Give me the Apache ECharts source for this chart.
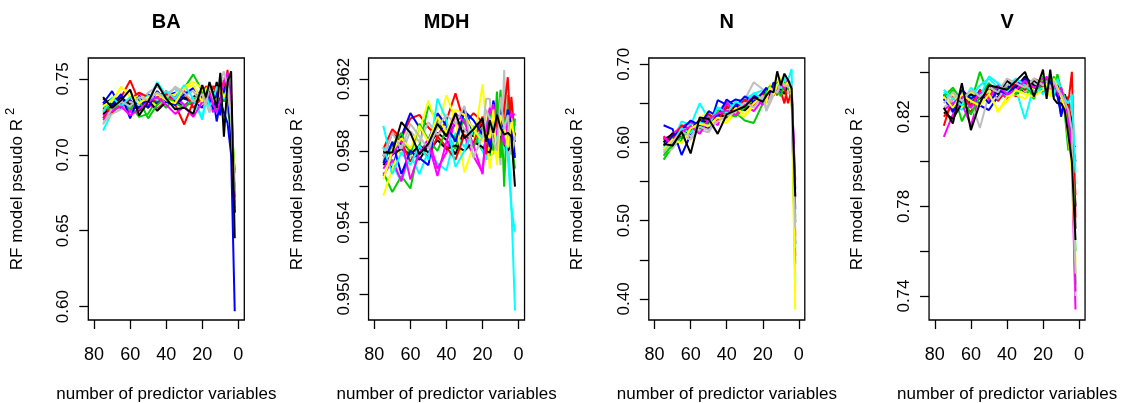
<!DOCTYPE html>
<html><head><meta charset="utf-8">
<script src="https://cdn.jsdelivr.net/npm/echarts@6/dist/echarts.min.js"></script>
<style>html,body{margin:0;padding:0;background:#fff}#c{width:1121px;height:403px}</style>
</head><body><div id="c"></div>
<script>
const panelNames = ['BA', 'MDH', 'N', 'V'];
const nVars = [75,70,65,60,55,50,45,40,35,30,25,20,18,16,14,12,10,8,6,4,2];
const xTicks = [0,20,40,60,80];
const runColors = ['#000000','#FF0000','#00CD00','#0000FF','#00FFFF','#FF00FF','#FFFF00','#BEBEBE'];

const baTicks = [0.60,0.65,0.70,0.75];
const baLabels = [0.60,0.65,0.70,0.75];
const mdhTicks = [0.950,0.952,0.954,0.956,0.958,0.960,0.962];
const mdhLabels = [0.950,0.954,0.958,0.962];
const nTicks = [0.40,0.45,0.50,0.55,0.60,0.65,0.70];
const nLabels = [0.40,0.50,0.60,0.70];
const vTicks = [0.74,0.76,0.78,0.80,0.82,0.84];
const vLabels = [0.74,0.78,0.82];

const baRuns = [
[0.733,0.737,0.731,0.735,0.729,0.736,0.733,0.740,0.735,0.732,0.738,0.742,0.736,0.744,0.739,0.746,0.741,0.735,0.748,0.722,0.668],
[0.724,0.733,0.738,0.749,0.735,0.731,0.738,0.742,0.733,0.720,0.735,0.741,0.745,0.744,0.745,0.745,0.744,0.738,0.756,0.728,0.662],
[0.729,0.734,0.731,0.733,0.725,0.727,0.737,0.731,0.738,0.744,0.753,0.742,0.736,0.741,0.733,0.738,0.728,0.742,0.731,0.715,0.690],
[0.734,0.742,0.730,0.736,0.731,0.740,0.734,0.739,0.741,0.737,0.735,0.731,0.739,0.733,0.738,0.722,0.735,0.728,0.721,0.700,0.597],
[0.716,0.728,0.735,0.731,0.738,0.735,0.748,0.739,0.744,0.731,0.738,0.724,0.735,0.728,0.740,0.733,0.745,0.740,0.738,0.730,0.680],
[0.726,0.731,0.735,0.728,0.741,0.733,0.731,0.735,0.738,0.733,0.734,0.738,0.741,0.735,0.728,0.738,0.745,0.748,0.752,0.735,0.665],
[0.730,0.735,0.745,0.738,0.739,0.736,0.732,0.738,0.740,0.745,0.748,0.744,0.735,0.743,0.731,0.737,0.740,0.746,0.748,0.738,0.678],
[0.721,0.727,0.730,0.735,0.733,0.741,0.745,0.740,0.744,0.739,0.742,0.733,0.737,0.728,0.735,0.731,0.742,0.751,0.737,0.732,0.670],
[0.727,0.732,0.738,0.733,0.730,0.736,0.729,0.735,0.733,0.738,0.735,0.737,0.733,0.742,0.737,0.748,0.733,0.742,0.750,0.706,0.662],
[0.731,0.728,0.733,0.737,0.741,0.738,0.735,0.740,0.737,0.742,0.731,0.738,0.740,0.735,0.745,0.741,0.739,0.749,0.741,0.728,0.672],
[0.733,0.729,0.735,0.730,0.736,0.724,0.733,0.738,0.734,0.731,0.736,0.740,0.744,0.737,0.741,0.730,0.747,0.735,0.744,0.725,0.688],
[0.737,0.733,0.740,0.724,0.739,0.731,0.742,0.735,0.733,0.740,0.744,0.738,0.733,0.740,0.730,0.741,0.726,0.744,0.738,0.718,0.676],
[0.728,0.738,0.732,0.738,0.734,0.739,0.736,0.742,0.737,0.746,0.737,0.723,0.740,0.732,0.736,0.745,0.738,0.737,0.745,0.731,0.674],
[0.723,0.729,0.732,0.726,0.730,0.735,0.738,0.733,0.727,0.732,0.725,0.735,0.738,0.741,0.733,0.728,0.736,0.748,0.754,0.740,0.666],
[0.732,0.736,0.744,0.741,0.734,0.738,0.740,0.736,0.734,0.744,0.746,0.735,0.743,0.746,0.738,0.735,0.744,0.738,0.743,0.726,0.682],
[0.720,0.731,0.735,0.732,0.738,0.736,0.741,0.737,0.745,0.741,0.735,0.740,0.732,0.746,0.738,0.733,0.748,0.755,0.745,0.724,0.676],
[0.738,0.731,0.736,0.743,0.726,0.735,0.747,0.737,0.730,0.731,0.727,0.746,0.738,0.748,0.740,0.731,0.754,0.712,0.748,0.755,0.645]
];

const mdhRuns = [
[0.9572,0.9578,0.9585,0.9580,0.9575,0.9583,0.9590,0.9586,0.9578,0.9592,0.9588,0.9595,0.9590,0.9583,0.9596,0.9588,0.9601,0.9594,0.9589,0.9592,0.9585],
[0.9581,0.9592,0.9587,0.9598,0.9600,0.9593,0.9588,0.9597,0.9612,0.9595,0.9601,0.9596,0.9590,0.9597,0.9588,0.9604,0.9592,0.9599,0.9582,0.9610,0.9586],
[0.9568,0.9557,0.9566,0.9559,0.9583,0.9605,0.9596,0.9590,0.9581,0.9603,0.9589,0.9580,0.9586,0.9577,0.9595,0.9590,0.9614,0.9560,0.9611,0.9585,0.9570],
[0.9578,0.9570,0.9588,0.9601,0.9593,0.9586,0.9599,0.9588,0.9595,0.9603,0.9590,0.9597,0.9585,0.9593,0.9608,0.9599,0.9602,0.9591,0.9596,0.9580,0.9578],
[0.9594,0.9572,0.9563,0.9578,0.9567,0.9580,0.9573,0.9569,0.9590,0.9582,0.9594,0.9580,0.9575,0.9589,0.9578,0.9595,0.9588,0.9581,0.9593,0.9549,0.9491],
[0.9566,0.9575,0.9563,0.9582,0.9578,0.9587,0.9570,0.9579,0.9598,0.9588,0.9577,0.9568,0.9592,0.9584,0.9606,0.9590,0.9583,0.9597,0.9588,0.9600,0.9594],
[0.9555,0.9570,0.9583,0.9577,0.9591,0.9608,0.9592,0.9611,0.9597,0.9568,0.9583,0.9617,0.9596,0.9570,0.9583,0.9575,0.9592,0.9608,0.9583,0.9598,0.9580],
[0.9575,0.9585,0.9578,0.9591,0.9585,0.9596,0.9589,0.9593,0.9598,0.9592,0.9584,0.9590,0.9609,0.9609,0.9581,0.9595,0.9572,0.9625,0.9574,0.9590,0.9597],
[0.9580,0.9578,0.9581,0.9578,0.9583,0.9579,0.9586,0.9581,0.9583,0.9580,0.9585,0.9582,0.9580,0.9579,0.9586,0.9582,0.9588,0.9584,0.9580,0.9583,0.9590],
[0.9577,0.9590,0.9585,0.9574,0.9582,0.9576,0.9588,0.9582,0.9575,0.9589,0.9584,0.9599,0.9578,0.9593,0.9585,0.9598,0.9580,0.9603,0.9621,0.9585,0.9590],
[0.9574,0.9583,0.9590,0.9578,0.9595,0.9586,0.9580,0.9592,0.9587,0.9598,0.9582,0.9593,0.9588,0.9603,0.9580,0.9613,0.9576,0.9595,0.9603,0.9578,0.9598],
[0.9573,0.9585,0.9567,0.9580,0.9576,0.9572,0.9601,0.9594,0.9585,0.9602,0.9597,0.9589,0.9593,0.9582,0.9590,0.9580,0.9606,0.9585,0.9603,0.9594,0.9576],
[0.9582,0.9567,0.9579,0.9572,0.9583,0.9575,0.9609,0.9597,0.9571,0.9580,0.9592,0.9587,0.9595,0.9599,0.9590,0.9586,0.9594,0.9590,0.9577,0.9548,0.9535],
[0.9570,0.9578,0.9586,0.9564,0.9579,0.9584,0.9566,0.9585,0.9601,0.9596,0.9583,0.9567,0.9591,0.9604,0.9596,0.9589,0.9595,0.9583,0.9597,0.9601,0.9600],
[0.9564,0.9580,0.9587,0.9581,0.9594,0.9585,0.9599,0.9590,0.9603,0.9600,0.9592,0.9585,0.9590,0.9587,0.9603,0.9572,0.9600,0.9594,0.9582,0.9596,0.9586],
[0.9577,0.9590,0.9581,0.9595,0.9588,0.9581,0.9593,0.9600,0.9595,0.9605,0.9576,0.9588,0.9603,0.9598,0.9585,0.9580,0.9610,0.9592,0.9600,0.9578,0.9588],
[0.9579,0.9579,0.9596,0.9590,0.9578,0.9584,0.9595,0.9588,0.9601,0.9587,0.9592,0.9598,0.9585,0.9597,0.9590,0.9600,0.9593,0.9589,0.9590,0.9588,0.9560]
];

const nRuns = [
[0.604,0.610,0.608,0.620,0.618,0.632,0.628,0.645,0.641,0.648,0.660,0.652,0.664,0.658,0.668,0.662,0.676,0.668,0.673,0.665,0.470],
[0.608,0.598,0.615,0.611,0.628,0.622,0.640,0.635,0.650,0.644,0.652,0.661,0.655,0.667,0.660,0.672,0.665,0.650,0.676,0.662,0.455],
[0.578,0.595,0.603,0.620,0.612,0.638,0.630,0.640,0.638,0.628,0.625,0.650,0.663,0.656,0.671,0.660,0.673,0.665,0.669,0.672,0.505],
[0.622,0.617,0.584,0.610,0.623,0.617,0.654,0.648,0.655,0.652,0.660,0.658,0.651,0.664,0.670,0.678,0.662,0.674,0.668,0.673,0.540],
[0.590,0.602,0.627,0.622,0.650,0.630,0.640,0.651,0.645,0.656,0.662,0.667,0.658,0.662,0.673,0.669,0.678,0.671,0.680,0.694,0.420],
[0.601,0.611,0.620,0.626,0.619,0.632,0.622,0.652,0.636,0.648,0.640,0.655,0.668,0.662,0.675,0.668,0.670,0.676,0.664,0.668,0.552],
[0.595,0.606,0.612,0.603,0.631,0.640,0.628,0.625,0.638,0.633,0.648,0.662,0.650,0.675,0.668,0.681,0.674,0.660,0.680,0.670,0.386],
[0.586,0.592,0.610,0.604,0.616,0.613,0.630,0.636,0.642,0.655,0.677,0.668,0.641,0.650,0.661,0.673,0.666,0.679,0.662,0.675,0.430],
[0.600,0.612,0.606,0.616,0.629,0.625,0.636,0.632,0.648,0.641,0.651,0.657,0.668,0.660,0.665,0.676,0.668,0.662,0.674,0.660,0.498],
[0.605,0.603,0.622,0.617,0.625,0.636,0.628,0.646,0.640,0.655,0.646,0.663,0.657,0.668,0.672,0.662,0.680,0.671,0.650,0.667,0.480],
[0.583,0.598,0.607,0.614,0.620,0.627,0.641,0.637,0.633,0.645,0.656,0.652,0.666,0.672,0.664,0.668,0.659,0.677,0.670,0.664,0.445],
[0.596,0.608,0.616,0.628,0.622,0.640,0.633,0.655,0.646,0.659,0.652,0.664,0.670,0.663,0.677,0.671,0.682,0.670,0.676,0.667,0.515],
[0.593,0.600,0.618,0.612,0.626,0.621,0.645,0.638,0.652,0.647,0.663,0.655,0.661,0.670,0.666,0.675,0.669,0.683,0.672,0.678,0.465],
[0.607,0.597,0.613,0.621,0.611,0.629,0.637,0.641,0.635,0.650,0.658,0.648,0.662,0.657,0.670,0.664,0.677,0.668,0.681,0.665,0.530],
[0.591,0.604,0.599,0.618,0.624,0.621,0.632,0.628,0.644,0.636,0.650,0.659,0.654,0.671,0.661,0.673,0.683,0.672,0.677,0.660,0.410],
[0.588,0.601,0.614,0.608,0.620,0.616,0.627,0.634,0.640,0.651,0.645,0.660,0.640,0.656,0.669,0.663,0.678,0.674,0.671,0.676,0.490],
[0.598,0.596,0.614,0.586,0.632,0.630,0.611,0.636,0.641,0.646,0.658,0.652,0.660,0.666,0.664,0.691,0.673,0.688,0.680,0.669,0.531]
];

const vRuns = [
[0.828,0.824,0.830,0.826,0.831,0.828,0.833,0.829,0.834,0.831,0.836,0.833,0.837,0.832,0.835,0.830,0.833,0.826,0.822,0.812,0.780],
[0.816,0.829,0.826,0.822,0.830,0.834,0.827,0.832,0.829,0.835,0.831,0.834,0.832,0.836,0.830,0.834,0.828,0.830,0.826,0.840,0.775],
[0.827,0.832,0.818,0.826,0.840,0.829,0.833,0.828,0.836,0.832,0.828,0.838,0.835,0.832,0.838,0.829,0.832,0.822,0.805,0.815,0.745],
[0.830,0.822,0.828,0.831,0.825,0.823,0.829,0.834,0.831,0.836,0.833,0.831,0.836,0.833,0.829,0.835,0.820,0.828,0.818,0.806,0.807],
[0.831,0.826,0.823,0.829,0.834,0.837,0.833,0.829,0.832,0.819,0.834,0.830,0.833,0.831,0.836,0.833,0.830,0.825,0.828,0.823,0.790],
[0.811,0.821,0.826,0.816,0.830,0.827,0.832,0.828,0.836,0.833,0.830,0.837,0.834,0.831,0.835,0.829,0.831,0.822,0.818,0.800,0.734],
[0.826,0.830,0.824,0.831,0.827,0.832,0.822,0.829,0.830,0.828,0.833,0.836,0.831,0.829,0.834,0.837,0.831,0.826,0.820,0.795,0.750],
[0.824,0.828,0.831,0.827,0.815,0.830,0.828,0.834,0.837,0.831,0.835,0.832,0.834,0.837,0.832,0.836,0.829,0.827,0.822,0.816,0.740],
[0.822,0.819,0.826,0.830,0.828,0.833,0.830,0.836,0.833,0.838,0.834,0.832,0.836,0.833,0.831,0.834,0.828,0.830,0.824,0.818,0.770],
[0.820,0.825,0.830,0.825,0.832,0.829,0.834,0.831,0.835,0.832,0.837,0.835,0.832,0.834,0.829,0.833,0.830,0.823,0.829,0.812,0.785],
[0.829,0.833,0.827,0.821,0.829,0.835,0.831,0.833,0.830,0.834,0.829,0.836,0.833,0.838,0.833,0.839,0.832,0.829,0.817,0.808,0.760],
[0.828,0.823,0.832,0.828,0.831,0.826,0.832,0.830,0.834,0.837,0.833,0.835,0.831,0.836,0.832,0.829,0.821,0.826,0.822,0.810,0.800],
[0.832,0.828,0.825,0.833,0.829,0.838,0.835,0.831,0.837,0.834,0.831,0.833,0.830,0.834,0.829,0.837,0.832,0.828,0.826,0.830,0.795],
[0.823,0.826,0.829,0.824,0.831,0.828,0.834,0.830,0.832,0.836,0.833,0.835,0.838,0.832,0.835,0.831,0.833,0.826,0.820,0.805,0.742],
[0.829,0.824,0.830,0.827,0.825,0.830,0.823,0.827,0.832,0.830,0.829,0.832,0.835,0.830,0.837,0.833,0.829,0.824,0.810,0.798,0.755],
[0.826,0.831,0.827,0.832,0.829,0.833,0.831,0.837,0.835,0.833,0.837,0.834,0.836,0.833,0.836,0.832,0.830,0.827,0.823,0.814,0.750],
[0.824,0.817,0.835,0.814,0.826,0.834,0.833,0.832,0.836,0.840,0.829,0.841,0.828,0.841,0.828,0.826,0.826,0.823,0.812,0.800,0.765]
];

const panelRuns = [baRuns, mdhRuns, nRuns, vRuns];
const panelTicks = [baTicks, mdhTicks, nTicks, vTicks];
const panelLabels = [baLabels, mdhLabels, nLabels, vLabels];
const panelDigits = [2, 3, 2, 2];
const panelYRange = [[0.5912, 0.7638], [0.94857, 0.96317], [0.373, 0.708], [0.7293, 0.8462]];

const FONT = 'Liberation Sans';
const panelW = 1121 / 4;
const plotLeft = 88.3, plotW = 156, plotTop = 58, plotH = 262;

const grids = [], xAxes = [], yAxes = [], series = [], graphics = [];
panelNames.forEach((name, p) => {
  const off = p * panelW;
  grids.push({ left: off + plotLeft, top: plotTop, width: plotW, height: plotH,
    show: true, borderColor: '#000', borderWidth: 1.3, backgroundColor: 'transparent' });
  xAxes.push({ gridIndex: p, type: 'value', inverse: true, min: -3.3, max: 83.2, position: 'bottom',
    axisLine: { show: false, onZero: false }, splitLine: { show: false },
    axisTick: { show: true, customValues: xTicks, length: 9, lineStyle: { color: '#000', width: 1.3 } },
    axisLabel: { customValues: xTicks, color: '#000', fontSize: 18, fontFamily: FONT, margin: 26 } });
  yAxes.push({ gridIndex: p, type: 'value', min: panelYRange[p][0], max: panelYRange[p][1], position: 'left',
    axisLine: { show: false, onZero: false }, splitLine: { show: false },
    axisTick: { show: true, customValues: panelTicks[p], length: 9, lineStyle: { color: '#000', width: 1.3 } },
    axisLabel: { customValues: panelLabels[p], rotate: 90, color: '#000', fontSize: 17, fontFamily: FONT, margin: 16,
      formatter: v => Number(v).toFixed(panelDigits[p]) } });
  panelRuns[p].forEach((run, i) => {
    series.push({ type: 'line', xAxisIndex: p, yAxisIndex: p, symbol: 'none', silent: true, animation: false,
      data: nVars.map((x, j) => [x, run[j]]),
      lineStyle: { color: runColors[i % runColors.length], width: 2 } });
  });
  const cx = off + plotLeft + plotW / 2;
  graphics.push({ type: 'text', x: cx, y: 22, style: { text: name, font: 'bold 20px ' + FONT, fill: '#000', align: 'center', verticalAlign: 'middle' } });
  graphics.push({ type: 'text', x: cx, y: 394, style: { text: 'number of predictor variables', font: '17px ' + FONT, fill: '#000', align: 'center', verticalAlign: 'middle' } });
  graphics.push({ type: 'text', x: off + 17, y: plotTop + plotH / 2, rotation: Math.PI / 2,
    style: { text: '{a|RF model pseudo R}{b|2}', fill: '#000', align: 'center', verticalAlign: 'middle',
      rich: { a: { font: '17px ' + FONT, fill: '#000' }, b: { font: '13px ' + FONT, fill: '#000', padding: [0, 0, 14, 4] } } } });
});

const chart = echarts.init(document.getElementById('c'), null, { renderer: 'canvas' });
chart.setOption({ animation: false, grid: grids, xAxis: xAxes, yAxis: yAxes, series: series, graphic: graphics });
</script>
</body></html>
